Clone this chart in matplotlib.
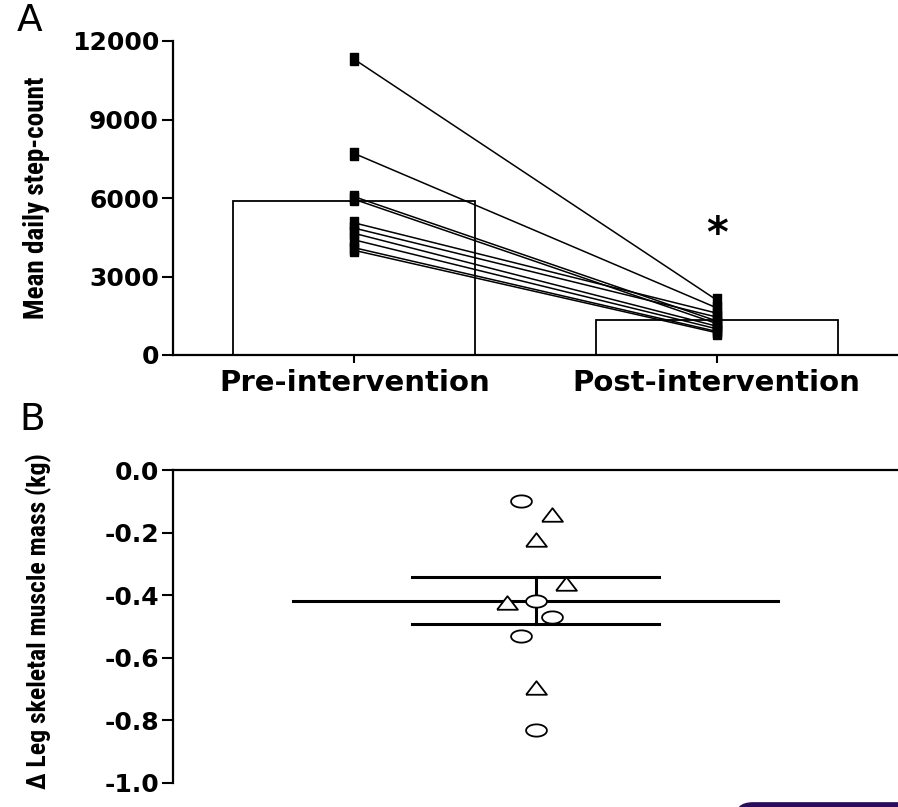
import numpy as np
import matplotlib
matplotlib.use("Agg")
import matplotlib.pyplot as plt
from matplotlib.patches import FancyBboxPatch

plt.rcParams['axes.unicode_minus'] = False
plt.rcParams['font.family'] = ['DejaVu Sans']

# ---- data: panel A (mean daily step-count, one line per subject) ----
groups = ['Pre-intervention', 'Post-intervention']
bar_means = [5900, 1340]
pre_steps = [11300, 7700, 6050, 5950, 5050, 4850, 4650, 4400, 4100, 4000]
post_steps = [2100, 1800, 1300, 1200, 1600, 1450, 1100, 1000, 900, 850]
star_y = 4600

# ---- data: panel B (change in leg skeletal muscle mass, kg) ----
circle_x = [-0.04, 0.0, 0.045, -0.04, 0.0]
circle_y = [-0.10, -0.42, -0.47, -0.53, -0.83]
tri_x = [0.045, 0.0, 0.085, -0.08, 0.0]
tri_y = [-0.145, -0.225, -0.365, -0.425, -0.695]
delta_mean = -0.417
delta_sem = 0.075

narrow = ['Liberation Sans Narrow', 'Roboto Condensed', 'Liberation Sans',
          'DejaVu Sans']

fig = plt.figure(figsize=(8.98, 8.07), dpi=100)

# ---------------- panel A ----------------
axA = fig.add_axes([173 / 898, 1 - 355 / 807, 725 / 898, 314 / 807])
xpos = np.arange(len(groups))
axA.bar(xpos, bar_means, width=0.667, facecolor='white', edgecolor='black',
        linewidth=1.3, zorder=1)

bar_marker = [(-0.35, -0.5), (0.35, -0.5), (0.35, 0.5), (-0.35, 0.5),
              (-0.35, -0.5)]
for a, b in zip(pre_steps, post_steps):
    axA.plot(xpos, [a, b], color='black', lw=1.1, marker=bar_marker,
             markersize=8, markerfacecolor='black', markeredgecolor='black',
             zorder=3, clip_on=False)

axA.text(1, star_y, '*', ha='center', va='center', fontsize=30,
         fontweight='bold')

axA.set_xlim(-0.5, 1.5)
axA.set_ylim(0, 12000)
axA.set_yticks([0, 3000, 6000, 9000, 12000])
axA.set_xticks(xpos)
axA.set_xticklabels(groups, fontsize=21, fontweight='bold')
for lab in axA.get_yticklabels():
    lab.set_fontsize(18)
    lab.set_fontweight('bold')
axA.spines['top'].set_visible(False)
axA.spines['right'].set_visible(False)
for s in ['left', 'bottom']:
    axA.spines[s].set_linewidth(1.6)
axA.tick_params(axis='y', length=8, width=1.5, pad=2)
axA.tick_params(axis='x', length=6, width=1.5, pad=4)
axA.set_ylabel('Mean daily step-count', family=narrow, fontweight='bold',
               fontsize=19.5)
axA.yaxis.set_label_coords(-0.169, 0.5)

# ---------------- panel B ----------------
axB = fig.add_axes([173 / 898, 1 - 783 / 807, 725 / 898, 313 / 807])

t = np.linspace(0, 2 * np.pi, 60)
ellipse = list(zip(1.7 * np.cos(t), np.sin(t)))
triangle = [(-1.0, -0.6), (1.0, -0.6), (0.0, 0.7), (-1.0, -0.6)]

axB.plot([-0.67, 0.67], [delta_mean, delta_mean], color='black', lw=2.2,
         zorder=2)
for yy in [delta_mean - delta_sem, delta_mean + delta_sem]:
    axB.plot([-0.34, 0.34], [yy, yy], color='black', lw=2.2, zorder=2)
axB.plot([0, 0], [delta_mean - delta_sem, delta_mean + delta_sem],
         color='black', lw=2.2, zorder=2)

axB.plot(circle_x, circle_y, ls='none', marker=ellipse, markersize=15,
         markerfacecolor='white', markeredgecolor='black',
         markeredgewidth=1.3, zorder=3)
axB.plot(tri_x, tri_y, ls='none', marker=triangle, markersize=15,
         markerfacecolor='white', markeredgecolor='black',
         markeredgewidth=1.3, zorder=3)

axB.set_xlim(-1, 1)
axB.set_ylim(-1.0, 0.0)
axB.set_yticks([0.0, -0.2, -0.4, -0.6, -0.8, -1.0])
axB.set_yticklabels(['0.0', '-0.2', '-0.4', '-0.6', '-0.8', '-1.0'],
                    fontsize=18, fontweight='bold')
axB.set_xticks([])
axB.spines['bottom'].set_visible(False)
axB.spines['right'].set_visible(False)
for s in ['left', 'top']:
    axB.spines[s].set_linewidth(1.6)
axB.tick_params(axis='y', length=8, width=1.5, pad=2)
axB.set_ylabel('\u0394 Leg skeletal muscle mass (kg)', family=narrow,
               fontweight='bold', fontsize=18.5)
axB.yaxis.set_label_coords(-0.167, 0.518)

# panel letters
fig.text(17 / 898, 1 - 31 / 807, 'A', fontsize=27, ha='left', va='baseline')
fig.text(19 / 898, 1 - 430 / 807, 'B', fontsize=27, ha='left', va='baseline')

# dark rounded shape peeking in at bottom right of the source image
fig.patches.append(FancyBboxPatch((735 / 898, -0.02), 0.3, 0.026,
                                  boxstyle='round,pad=0,rounding_size=0.02',
                                  transform=fig.transFigure,
                                  facecolor='#2a0b5c', edgecolor='none'))

fig.savefig('out.png', dpi=100)
